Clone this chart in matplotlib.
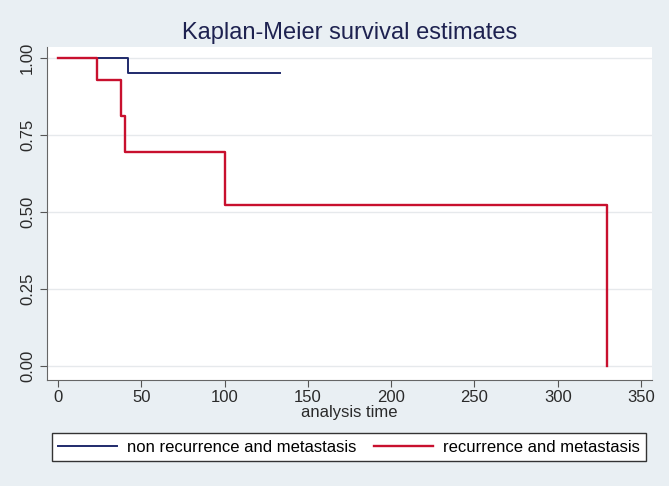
import numpy as np
import matplotlib.pyplot as plt

plt.rcParams['font.family'] = ['Liberation Sans', 'DejaVu Sans']

# Kaplan-Meier step data
t_non = [0, 42, 133]
s_non = [1.0, 0.953, 0.953]

t_rec = [0, 23.5, 38, 40, 100, 329.5, 329.5]
s_rec = [1.0, 0.928, 0.812, 0.696, 0.522, 0.522, 0.0]

xticks = [0, 50, 100, 150, 200, 250, 300, 350]
yticks = [0.0, 0.25, 0.5, 0.75, 1.0]
ylabels = ['0.00', '0.25', '0.50', '0.75', '1.00']

bg = '#e9eff3'
fig = plt.figure(figsize=(6.69, 4.86), dpi=100, facecolor=bg)
ax = fig.add_axes([0.0703, 0.218, 0.9043, 0.685])
ax.set_facecolor('white')

for y in yticks:
    ax.axhline(y, color='#e6e9ec', lw=1.0, zorder=0)

ax.step(t_non, s_non, where='post', color='#1f2a6b', lw=1.4,
        label='non recurrence and metastasis')
ax.step(t_rec, s_rec, where='post', color='#c8102e', lw=1.7,
        label='recurrence and metastasis')

ax.set_xlim(-6.6, 356.6)
ax.set_ylim(-0.045, 1.036)
ax.set_xticks(xticks)
ax.set_yticks(yticks)
ax.set_yticklabels(ylabels, rotation=90, va='center')
ax.tick_params(axis='both', labelsize=12, color='#555555', length=5,
               direction='out', labelcolor='#2a2a2a')
ax.tick_params(axis='x', pad=2)

for side in ['top', 'right']:
    ax.spines[side].set_visible(False)
for side in ['left', 'bottom']:
    ax.spines[side].set_color('#666666')

ax.set_xlabel('analysis time', fontsize=12, color='#2a2a2a', labelpad=0)
ax.set_title('Kaplan-Meier survival estimates', fontsize=17, color='#1e2250', pad=6)

leg = fig.legend(loc='center', bbox_to_anchor=(349 / 669, 1 - 447 / 486),
                 ncol=2, fontsize=12, frameon=True, fancybox=False,
                 framealpha=1, edgecolor='#333333', handlelength=3.5,
                 handletextpad=0.6, columnspacing=1.1, borderpad=0.4,
                 borderaxespad=0)
leg.get_frame().set_linewidth(1.0)
leg.get_frame().set_facecolor('white')

plt.savefig('out.png', dpi=100, facecolor=bg)
